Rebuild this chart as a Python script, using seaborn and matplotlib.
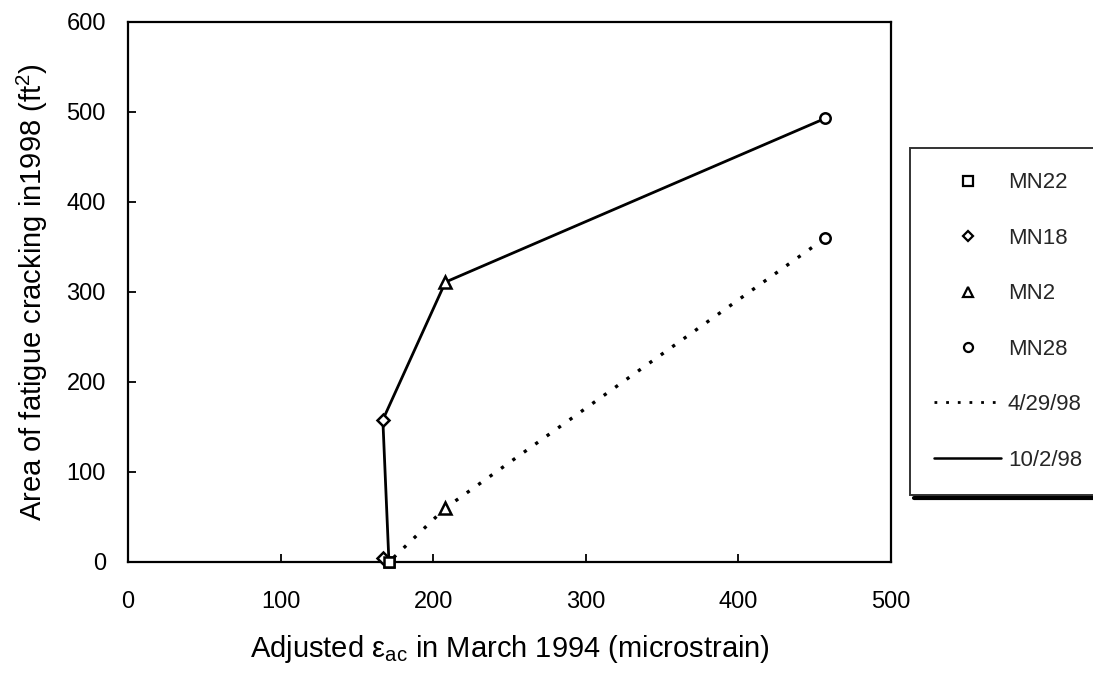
import matplotlib
matplotlib.use("Agg")
import matplotlib.pyplot as plt
import seaborn as sns
import pandas as pd
from matplotlib.lines import Line2D

# Data
sections = ["MN22", "MN18", "MN2", "MN28"]
strain = [171, 167, 208, 457]
crack_apr98 = [0, 5, 60, 360]
crack_oct98 = [0, 158, 311, 493]
markers = ["s", "D", "^", "o"]
marker_sizes = [7.5, 6.5, 8.5, 7.5]
x_ticks = [0, 100, 200, 300, 400, 500]
y_ticks = [0, 100, 200, 300, 400, 500, 600]

sns.set_theme(style="white")
plt.rcParams["font.family"] = ["Liberation Sans", "DejaVu Sans"]
plt.rcParams["mathtext.default"] = "regular"

W, H = 1093, 679
fig = plt.figure(figsize=(W / 100, H / 100), dpi=100)
L, R, T, B = 128, 891, 22, 562
ax = fig.add_axes([L / W, 1 - B / H, (R - L) / W, (B - T) / H])

df_apr = pd.DataFrame({"section": sections, "strain": strain, "crack": crack_apr98})
df_oct = pd.DataFrame({"section": sections, "strain": strain, "crack": crack_oct98})
df_apr_line = df_apr.sort_values("strain")
df_oct_line = df_oct.sort_values("crack")

dot_style = (0, (1.0, 3.2))
sns.lineplot(data=df_apr_line, x="strain", y="crack", sort=False, ax=ax,
             color="black", linestyle=dot_style, linewidth=2.4, legend=False)
sns.lineplot(data=df_oct_line, x="strain", y="crack", sort=False, ax=ax,
             color="black", linestyle="-", linewidth=2.0, legend=False)

for df in (df_apr, df_oct):
    for i, sec in enumerate(sections):
        row = df[df["section"] == sec]
        ax.plot(row["strain"], row["crack"], linestyle="none", marker=markers[i],
                markersize=marker_sizes[i], markerfacecolor="white",
                markeredgecolor="black", markeredgewidth=1.8, zorder=5,
                clip_on=False)

ax.set_xlim(0, 500)
ax.set_ylim(0, 600)
ax.set_xticks(x_ticks)
ax.set_yticks(y_ticks)
ax.tick_params(axis="both", direction="in", length=6, width=1.3, colors="black",
               labelsize=17, bottom=True, left=True, top=False, right=False)
ax.tick_params(axis="x", pad=21)
ax.tick_params(axis="y", pad=16)
for s in ax.spines.values():
    s.set_color("black")
    s.set_linewidth(1.6)

ax.set_xlabel("Adjusted ε$_{ac}$ in March 1994 (microstrain)", fontsize=21,
              labelpad=14, color="black")
ax.set_ylabel("Area of fatigue cracking in1998 (ft$^{2}$)", fontsize=21,
              labelpad=12, color="black")

handles = []
for i, sec in enumerate(sections):
    handles.append(Line2D([], [], linestyle="none", marker=markers[i],
                          markersize=marker_sizes[i] - 1, markerfacecolor="white",
                          markeredgecolor="black", markeredgewidth=1.6, label=sec))
handles.append(Line2D([], [], color="black", linestyle=dot_style,
                      linewidth=2.0, label="4/29/98"))
handles.append(Line2D([], [], color="black", linestyle="-", linewidth=1.8,
                      label="10/2/98"))

leg_left, leg_top = 910, 148
leg = fig.legend(handles=handles, loc="upper left",
                 bbox_to_anchor=(leg_left / W, 1 - leg_top / H),
                 frameon=True, fancybox=False, shadow=False, fontsize=16,
                 handlelength=3.0, handletextpad=0.3, labelspacing=1.55,
                 borderpad=1.1, borderaxespad=0)
leg.get_frame().set_edgecolor("black")
leg.get_frame().set_linewidth(1.4)

# Excel-style shadow along the bottom of the legend box
fig.canvas.draw()
bb = leg.get_window_extent()
fig.add_artist(Line2D([bb.x0 / W + 0.004, 1.0], [bb.y0 / H - 0.004] * 2,
                      transform=fig.transFigure, color="black", linewidth=3.0))

fig.savefig("out.png", dpi=100)
